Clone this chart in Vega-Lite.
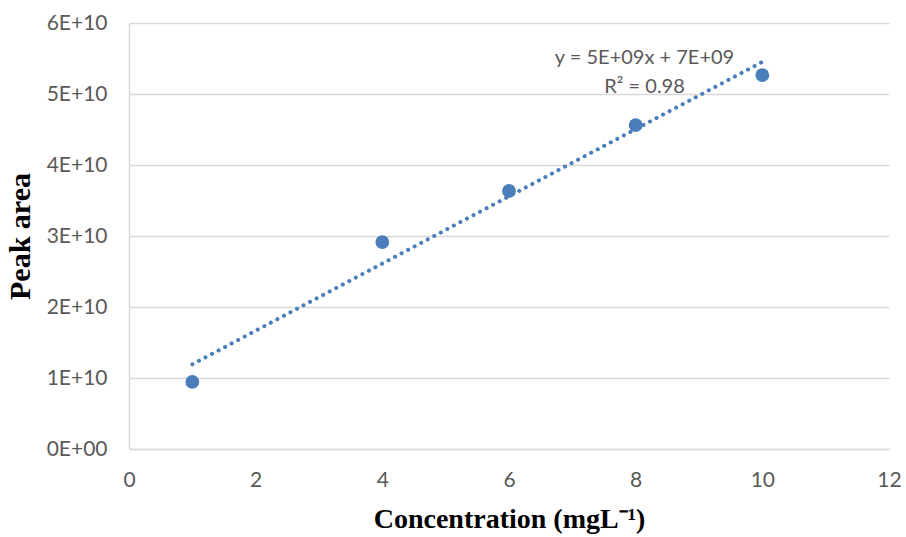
{
  "$schema": "https://vega.github.io/schema/vega-lite/v6.json",
  "width": 760,
  "height": 426,
  "autosize": {"type": "none"},
  "padding": {"left": 129, "right": 17, "top": 23, "bottom": 88},
  "background": "white",
  "config": {
    "view": {"stroke": null},
    "axis": {
      "labelFont": "Lato",
      "labelFontSize": 21,
      "labelColor": "#595959",
      "labelFlush": false,
      "ticks": false,
      "domainColor": "#d9d9d9",
      "domainWidth": 1.5,
      "gridColor": "#d9d9d9",
      "gridWidth": 1.5,
      "titleFont": "Liberation Serif",
      "titleFontWeight": "bold",
      "titleFontSize": 28,
      "titleColor": "#000000"
    }
  },
  "datasets": {
    "pts": [
      {"conc": 1, "area": 9.45e9},
      {"conc": 4, "area": 2.915e10},
      {"conc": 6, "area": 3.634e10},
      {"conc": 8, "area": 4.563e10},
      {"conc": 10, "area": 5.265e10}
    ],
    "eq": [
      {"conc": 8.14, "area": 5.51e10, "label": "y = 5E+09x + 7E+09"},
      {"conc": 8.14, "area": 5.10e10, "label": "R² = 0.98"}
    ]
  },
  "layer": [
    {
      "data": {"name": "pts"},
      "transform": [{"regression": "area", "on": "conc", "extent": [1, 10]}],
      "mark": {"type": "line", "color": "#4a7ebb", "strokeWidth": 4, "strokeDash": [0.1, 7.3], "strokeCap": "round"},
      "encoding": {
        "x": {"field": "conc", "type": "quantitative", "scale": {"domain": [0, 12]},
              "axis": {"values": [0, 2, 4, 6, 8, 10, 12], "format": "d", "grid": false, "labelPadding": 20, "titlePadding": 15,
                       "title": "Concentration (mgL⁻¹)"}},
        "y": {"field": "area", "type": "quantitative", "scale": {"domain": [0, 60000000000]},
              "axis": {"values": [0, 10000000000, 20000000000, 30000000000, 40000000000, 50000000000, 60000000000],
                       "labelExpr": "datum.value == 0 ? '0E+00' : format(datum.value / 1e10, 'd') + 'E+10'",
                       "labelPadding": 22, "titlePadding": 11, "titleFontSize": 30, "title": "Peak area"}}
      }
    },
    {
      "data": {"name": "pts"},
      "mark": {"type": "circle", "size": 190, "color": "#4a7ebb", "opacity": 1},
      "encoding": {
        "x": {"field": "conc", "type": "quantitative"},
        "y": {"field": "area", "type": "quantitative"}
      }
    },
    {
      "data": {"name": "eq"},
      "mark": {"type": "text", "font": "Lato", "fontSize": 20, "color": "#595959", "align": "center", "baseline": "middle"},
      "encoding": {
        "x": {"field": "conc", "type": "quantitative"},
        "y": {"field": "area", "type": "quantitative"},
        "text": {"field": "label"}
      }
    }
  ]
}
